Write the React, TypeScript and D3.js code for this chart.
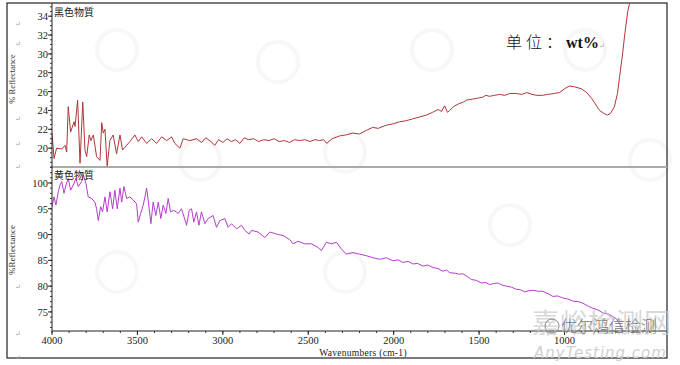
import React from "react";
import * as d3 from "d3";

// 黑色物質 (top panel)
const blackWavenumbers = [
  4000, 3988, 3973, 3943, 3924, 3914, 3905, 3891, 3871, 3865, 3850, 3836, 3820, 3807, 3797, 3782,
  3772, 3758, 3739, 3719, 3709, 3700, 3690, 3677, 3661, 3642, 3622, 3602, 3587, 3573, 3544, 3515,
  3495, 3475, 3446, 3417, 3388, 3358, 3329, 3300, 3281, 3251, 3232, 3193, 3154, 3125, 3100, 3070,
  3047, 3025, 3000, 2975, 2950, 2925, 2900, 2875, 2850, 2820, 2790, 2760, 2730, 2700, 2670, 2640,
  2610, 2580, 2550, 2520, 2490, 2460, 2433, 2410, 2392, 2360, 2316, 2280, 2240, 2200, 2158, 2123,
  2090, 2050, 2000, 1965, 1930, 1890, 1850, 1810, 1772, 1740, 1720, 1702, 1685, 1672, 1650, 1620,
  1590, 1573, 1540, 1510, 1480, 1460, 1439, 1410, 1380, 1350, 1320, 1281, 1250, 1220, 1190, 1160,
  1129, 1100, 1060, 1029, 1000, 971, 940, 901, 870, 842, 820, 795, 770, 749, 730, 708,
  690, 678, 660, 649, 630, 620, 600,
];
const blackReflectance = [
  21.6, 18.9, 20.0, 19.9, 20.3, 19.6, 24.4, 21.7, 22.8, 22.3, 25.1, 18.4, 24.9, 19.8, 19.1, 21.4,
  20.8, 21.4, 19.1, 18.7, 22.7, 21.6, 22.0, 18.1, 20.8, 21.4, 19.4, 21.4, 19.8, 20.1, 20.7, 21.4,
  20.7, 21.2, 20.5, 21.0, 20.5, 21.2, 20.8, 21.2, 20.5, 20.0, 21.0, 20.8, 21.0, 20.6, 21.1, 20.7,
  20.3, 20.9, 20.6, 21.0, 20.7, 20.9, 20.5, 21.1, 20.9, 21.0, 20.7, 20.9, 20.8, 21.0, 20.7, 20.8,
  20.6, 20.9, 20.8, 20.9, 20.7, 20.9, 20.8, 20.9, 20.5, 21.0, 21.3, 21.4, 21.6, 21.5, 21.9, 22.2,
  22.1, 22.4, 22.6, 22.8, 22.9, 23.1, 23.3, 23.5, 23.8, 24.1, 23.9, 24.5, 23.8, 24.0, 24.4, 24.7,
  24.9, 25.1, 25.2, 25.3, 25.4, 25.6, 25.5, 25.6, 25.7, 25.6, 25.8, 25.8, 25.7, 25.9, 25.7, 25.6,
  25.6, 25.7, 25.8, 25.9, 26.3, 26.6, 26.5, 26.3, 25.9, 25.3, 24.7, 24.0, 23.7, 23.5, 23.7, 24.4,
  25.8, 27.5, 30.0, 31.8, 34.5, 35.3, 37.0,
];

// 黄色物質 (bottom panel)
const yellowWavenumbers = [
  4000, 3988, 3977, 3963, 3953, 3943, 3930, 3918, 3905, 3891, 3875, 3860, 3846, 3826, 3817, 3801,
  3788, 3768, 3749, 3739, 3729, 3715, 3704, 3690, 3677, 3661, 3645, 3632, 3618, 3602, 3592, 3579,
  3563, 3544, 3525, 3505, 3495, 3481, 3466, 3446, 3431, 3421, 3408, 3392, 3378, 3363, 3349, 3333,
  3320, 3306, 3287, 3261, 3242, 3212, 3197, 3183, 3170, 3154, 3140, 3125, 3105, 3086, 3057, 3037,
  3018, 2988, 2969, 2949, 2920, 2891, 2871, 2846, 2832, 2794, 2754, 2725, 2686, 2647, 2608, 2589,
  2560, 2520, 2481, 2443, 2423, 2394, 2364, 2335, 2306, 2277, 2238, 2199, 2160, 2121, 2082, 2043,
  2004, 1975, 1946, 1915, 1887, 1860, 1829, 1800, 1770, 1740, 1712, 1690, 1672, 1640, 1614, 1596,
  1570, 1546, 1515, 1487, 1460, 1439, 1415, 1390, 1365, 1341, 1310, 1282, 1258, 1234, 1210, 1185,
  1155, 1127, 1095, 1068, 1040, 1010, 980, 951, 920, 893, 860, 834, 805, 776, 745, 717,
  695, 678, 659,
];
const yellowReflectance = [
  95.4, 97.3, 95.7, 98.3, 99.6, 100.3, 98.0, 99.6, 100.9, 98.6, 99.6, 100.9, 99.3, 100.3, 101.6, 99.9,
  97.3, 97.0, 96.3, 95.0, 92.7, 95.4, 94.4, 97.3, 94.4, 98.3, 95.0, 98.6, 95.0, 99.0, 96.3, 99.3,
  97.0, 97.3, 96.7, 96.0, 92.4, 94.1, 95.7, 99.0, 95.0, 92.1, 96.3, 93.7, 96.3, 93.1, 95.7, 94.1,
  97.0, 94.4, 94.7, 94.1, 95.0, 91.8, 94.7, 95.0, 92.4, 94.4, 91.8, 94.4, 92.1, 93.1, 93.7, 91.4,
  92.7, 93.1, 91.4, 92.1, 91.1, 91.8, 90.8, 90.1, 90.8, 90.5, 89.4, 90.5, 90.1, 89.8, 89.0, 88.2,
  88.7, 88.2, 88.2, 87.5, 86.9, 88.5, 88.2, 88.5, 87.2, 86.2, 86.5, 86.2, 85.9, 85.5, 85.2, 85.5,
  84.9, 85.1, 84.6, 84.8, 84.3, 84.4, 83.9, 84.1, 83.6, 83.4, 82.9, 83.1, 82.6, 82.5, 82.3, 82.4,
  81.9, 81.3, 81.1, 80.6, 80.7, 80.3, 80.5, 80.6, 80.2, 80.0, 79.8, 79.4, 79.3, 78.9, 79.1, 79.2,
  79.0, 79.0, 78.5, 78.0, 78.1, 77.7, 77.5, 77.1, 77.0, 76.7, 76.1, 75.7, 75.4, 74.8, 74.6, 74.1,
  73.6, 72.8, 71.2,
];

const xTicks = [4000, 3500, 3000, 2500, 2000, 1500, 1000];
const blackTicks = [20, 22, 24, 26, 28, 30, 32, 34];
const yellowTicks = [75, 80, 85, 90, 95, 100];
const pilcrowY = [23, 43, 118, 143, 166, 286, 333, 357];

const left = 52;
const right = 667;
const top = 3;
const mid = 167;
const bottom = 331;

const serif = "'Liberation Serif', 'DejaVu Serif', serif";
const cjk = "'Noto Sans CJK SC', sans-serif";

export default function App() {
  const x = d3.scaleLinear().domain([4000, 400]).range([left, right]);
  const yTop = d3.scaleLinear().domain([18, 35.4]).range([mid, top]);
  const yBot = d3.scaleLinear().domain([71.3, 103.1]).range([bottom, mid]);

  const blackLine = d3
    .line<number>()
    .x((d, i) => x(blackWavenumbers[i]))
    .y((d) => yTop(d));
  const yellowLine = d3
    .line<number>()
    .x((d, i) => x(yellowWavenumbers[i]))
    .y((d) => yBot(d));

  const xMinor = d3.range(4000, 399, -100);
  const topMinor = d3.range(18, 35.4, 0.5);
  const botMinor = d3.range(72, 103.1, 1);

  return (
    <svg
      width={680}
      height={365}
      style={{ position: "absolute", left: 0, top: 0, background: "#fff" }}
    >
      <defs>
        <clipPath id="clipTop">
          <rect x={left} y={top} width={right - left} height={mid - top} />
        </clipPath>
        <clipPath id="clipBot">
          <rect x={left} y={mid} width={right - left} height={bottom - mid} />
        </clipPath>
      </defs>

      {/* faint watermark logos */}
      {[
        [117, 50],
        [278, 62],
        [432, 50],
        [585, 50],
        [345, 152],
        [200, 160],
        [650, 160],
        [117, 272],
        [345, 272],
        [510, 225],
      ].map(([cx, cy], i) => (
        <circle key={i} cx={cx} cy={cy} r={20} fill="none" stroke="#f7f7f7" strokeWidth={4} />
      ))}

      {/* frame */}
      <rect x={7} y={top} width={right - 7} height={358 - top} fill="none" stroke="#222" strokeWidth={1.2} />
      <line x1={left} x2={right} y1={mid} y2={mid} stroke="#aaa" strokeWidth={2} />

      {/* paragraph marks */}
      {pilcrowY.map((py, i) => (
        <text key={i} x={15} y={py + 3} fontSize={7} fill="#999" fontFamily={serif}>
          ↵
        </text>
      ))}

      {/* series */}
      <path
        d={blackLine(blackReflectance) ?? ""}
        fill="none"
        stroke="#b0363a"
        strokeWidth={1}
        clipPath="url(#clipTop)"
      />
      <path
        d={yellowLine(yellowReflectance) ?? ""}
        fill="none"
        stroke="#b43fc8"
        strokeWidth={1}
        clipPath="url(#clipBot)"
      />

      {/* y axis */}
      <line x1={left} x2={left} y1={top} y2={bottom} stroke="#222" strokeWidth={1} />
      {topMinor.map((v) => (
        <line key={"tm" + v} x1={left - 2} x2={left} y1={yTop(v)} y2={yTop(v)} stroke="#333" />
      ))}
      {botMinor.map((v) => (
        <line key={"bm" + v} x1={left - 2} x2={left} y1={yBot(v)} y2={yBot(v)} stroke="#333" />
      ))}
      {blackTicks.map((v) => (
        <g key={"bt" + v}>
          <line x1={left - 4} x2={left} y1={yTop(v)} y2={yTop(v)} stroke="#222" />
          <text x={left - 4} y={yTop(v) + 4} textAnchor="end" fontSize={10.5} fontFamily={serif} fill="#222">
            {v}
          </text>
        </g>
      ))}
      {yellowTicks.map((v) => (
        <g key={"yt" + v}>
          <line x1={left - 4} x2={left} y1={yBot(v)} y2={yBot(v)} stroke="#222" />
          <text x={left - 4} y={yBot(v) + 4} textAnchor="end" fontSize={10.5} fontFamily={serif} fill="#222">
            {v}
          </text>
        </g>
      ))}
      <text
        transform="translate(15,79) rotate(-90)"
        textAnchor="middle"
        fontSize={8.5}
        fontFamily={serif}
        fill="#333"
      >
        % Reflectance
      </text>
      <text
        transform="translate(15,250) rotate(-90)"
        textAnchor="middle"
        fontSize={9}
        fontFamily={serif}
        fill="#333"
      >
        %Reflectance
      </text>

      {/* x axis */}
      <line x1={left} x2={right} y1={bottom} y2={bottom} stroke="#222" strokeWidth={1} />
      {xMinor.map((v) => (
        <line key={"xm" + v} x1={x(v)} x2={x(v)} y1={bottom} y2={bottom + 2} stroke="#333" />
      ))}
      {xTicks.map((v) => (
        <g key={"xt" + v}>
          <line x1={x(v)} x2={x(v)} y1={bottom} y2={bottom + 4} stroke="#222" />
          <text x={x(v)} y={bottom + 13} textAnchor="middle" fontSize={10.5} fontFamily={serif} fill="#222">
            {v}
          </text>
        </g>
      ))}
      <text x={363} y={356} textAnchor="middle" fontSize={9.5} fontFamily={serif} fill="#222" letterSpacing={0.3}>
        Wavenumbers (cm-1)
      </text>

      {/* labels */}
      <text x={54} y={16} fontSize={10} fontFamily={cjk} fill="#222">
        黑色物質
      </text>
      <text x={54} y={179} fontSize={10} fontFamily={cjk} fill="#222">
        黄色物質
      </text>
      <text x={506} y={48} fontSize={16} fontFamily={serif} fill="#111">
        <tspan fontFamily={cjk} fontWeight={300} letterSpacing={4}>
          单位：
        </tspan>
        <tspan fontWeight="bold">wt%</tspan>
        <tspan fontSize={7} fill="#999">
          ↵
        </tspan>
      </text>

      {/* watermark */}
      <text x={532} y={333} fontSize={27} fontFamily={cjk} fill="#c8c8c8" opacity={0.7} letterSpacing={1}>
        嘉峪检测网
      </text>
      <circle cx={552} cy={326} r={7} fill="none" stroke="#888" strokeWidth={1} />
      <text x={561} y={332} fontSize={16} fontFamily={cjk} fill="#777" fontWeight={300}>
        优尔鸿信检测
      </text>
      <text x={534} y={358} fontSize={15} fontFamily="'DejaVu Sans', sans-serif" fontStyle="italic" fill="#cfcfcf" letterSpacing={1}>
        AnyTesting.com
      </text>
    </svg>
  );
}
